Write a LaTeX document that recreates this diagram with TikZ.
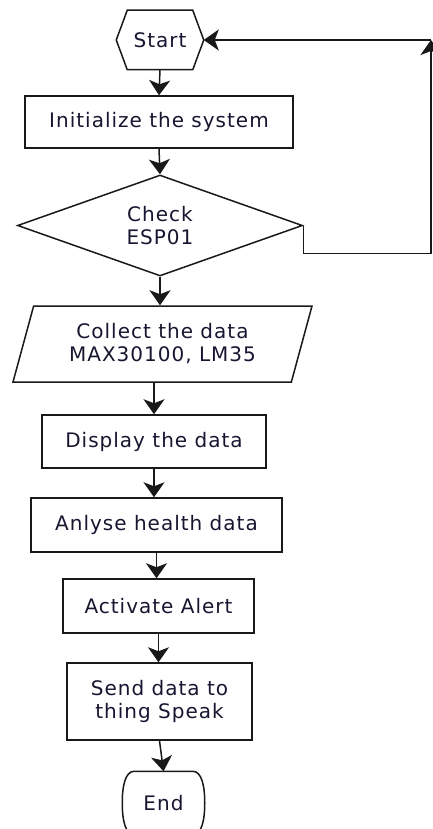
\documentclass[tikz,border=0pt]{standalone}
\usepackage{fontspec}
\newfontfamily\flowfont[LetterSpace=5]{DejaVu Sans}
\usetikzlibrary{shapes.geometric,arrows.meta,calc}
\definecolor{ink}{RGB}{22,22,48}
\definecolor{edge}{RGB}{25,25,25}
\begin{document}
\begin{tikzpicture}[x=1pt,y=1pt,
  box/.style={draw=edge, line width=1.5pt, rectangle, inner sep=0pt,
    font={\flowfont\fontsize{20pt}{23pt}\selectfont}, text=ink, align=center},
  outline/.style={draw=edge, line width=1.5pt},
  flow/.style={draw=edge, line width=1.5pt,
    -{Stealth[length=15pt,width=21pt,inset=4pt]}}]
\path[use as bounding box] (0,0) rectangle (433,-829);
\clip (0,0) rectangle (433,-829);

% start terminal (hexagon)
\node[box, draw=none, minimum width=86pt, minimum height=58pt] (start) at (160,-40) {Start};
\draw[outline]
  ($(start.north west)+(11,0)$) -- ($(start.north east)+(-11,0)$) -- (start.east)
  -- ($(start.south east)+(-11,0)$) -- ($(start.south west)+(11,0)$) -- (start.west) -- cycle;

\node[box, minimum width=268pt, minimum height=52pt] (init) at (159,-122) {Initialize the system};
\node[box, diamond, aspect=2.82, minimum width=285pt, minimum height=101pt] (check) at (160,-225.5) {Check\\ESP01};
\node[box, trapezium, trapezium left angle=63, trapezium right angle=117,
  trapezium stretches body, minimum width=299pt, minimum height=76pt] (collect) at (162.5,-344)
  {Collect the data\\MAX30100, LM35};
\node[box, minimum width=224pt, minimum height=53pt] (display) at (154,-441.5) {Display the data};
\node[box, minimum width=251pt, minimum height=54pt] (analyse) at (156.5,-525) {Anlyse health data};
\node[box, minimum width=191pt, minimum height=54pt] (alert) at (158.5,-606) {Activate Alert};
\node[box, minimum width=185pt, minimum height=77pt] (send) at (159.5,-701.5) {Send data to\\thing Speak};

% end terminal with bulging sides
\node[box, draw=none, minimum width=81pt, minimum height=62pt] (end) at (163.5,-803) {End};
\draw[outline]
  ($(end.north west)+(12,0)$) -- ($(end.north east)+(-12,0)$)
  .. controls +(9,0) and +(0,17) .. (end.east)
  .. controls +(0,-17) and +(9,0) .. ($(end.south east)+(-12,0)$)
  -- ($(end.south west)+(12,0)$)
  .. controls +(-9,0) and +(0,-17) .. (end.west)
  .. controls +(0,17) and +(-9,0) .. ($(end.north west)+(12,0)$) -- cycle;

% main flow
\draw[flow] (start.south) -- (init.north);
\draw[flow] (init.south) -- (check.north);
\draw[flow] (check.south) -- (check.south |- collect.north);
\draw[flow] (collect.south -| display.north) -- (display.north);
\draw[flow] (display.south) -- (display.south |- analyse.north);
\draw[flow] (analyse.south) -- (analyse.south |- alert.north);
\draw[flow] (alert.south) -- (alert.south |- send.north);
\draw[flow] (send.south) -- (end.north);

% retry loop back to start
\coordinate (corner) at (431,-40);
\draw[flow] (check.east) -- ++(0,-28) -| (corner);
\draw[flow] (corner) -- (start.east);
\end{tikzpicture}
\end{document}
